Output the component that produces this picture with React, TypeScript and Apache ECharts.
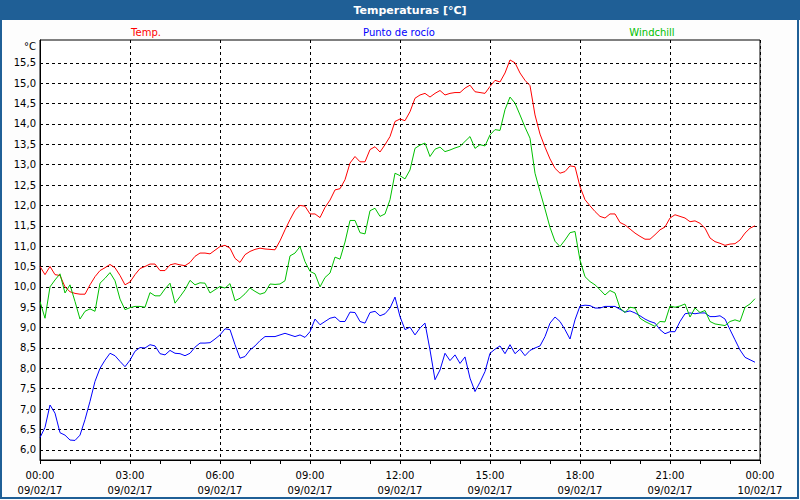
import React, { useEffect, useRef } from "react";
import * as echarts from "echarts";

// minutes after 00:00 on 09/02/17, one reading every 10 minutes
const times: number[] = Array.from({ length: 144 }, (_, k) => k * 10);

const temp: number[] = [
  10.5, 10.3, 10.5, 10.3, 10.28, 10.0, 9.88, 9.84, 9.82, 9.82,
  10.05, 10.25, 10.4, 10.47, 10.55, 10.47, 10.28, 10.05, 10.12, 10.3,
  10.45, 10.5, 10.56, 10.56, 10.4, 10.4, 10.54, 10.57, 10.54, 10.52,
  10.6, 10.75, 10.83, 10.83, 10.81, 10.9, 10.99, 11.02, 10.95, 10.7,
  10.6, 10.79, 10.87, 10.92, 10.95, 10.93, 10.92, 10.91, 11.13, 11.4,
  11.65, 11.88, 12.0, 11.98, 11.79, 11.79, 11.7, 11.95, 12.13, 12.38,
  12.41, 12.63, 13.04, 13.2, 13.07, 13.07, 13.37, 13.44, 13.31, 13.49,
  13.69, 14.06, 14.12, 14.08, 14.3, 14.63, 14.71, 14.75, 14.66, 14.75,
  14.82, 14.71, 14.75, 14.77, 14.77, 14.88, 14.95, 14.79, 14.77, 14.75,
  14.92, 15.07, 15.03, 15.25, 15.57, 15.5, 15.25, 15.07, 14.94, 14.22,
  13.75, 13.43, 13.14, 12.91, 12.79, 12.83, 12.97, 12.95, 12.46, 12.14,
  11.99, 11.85, 11.73, 11.69, 11.79, 11.79, 11.58, 11.52, 11.42, 11.32,
  11.24, 11.17, 11.17, 11.28, 11.4, 11.47, 11.69, 11.77, 11.73, 11.69,
  11.6, 11.62, 11.56, 11.44, 11.2, 11.11, 11.07, 11.02, 11.05, 11.06,
  11.15, 11.32, 11.44, 11.5,
];

const dewPoint: number[] = [
  6.3, 6.55, 7.1, 6.9, 6.42, 6.36, 6.24, 6.23, 6.36, 6.74,
  7.19, 7.68, 8.0, 8.2, 8.37, 8.31, 8.17, 8.04, 8.2, 8.42,
  8.51, 8.5, 8.58, 8.55, 8.36, 8.33, 8.44, 8.37, 8.36, 8.31,
  8.37, 8.52, 8.62, 8.62, 8.63, 8.72, 8.82, 8.97, 8.95, 8.58,
  8.25, 8.29, 8.45, 8.55, 8.68, 8.78, 8.78, 8.78, 8.82, 8.86,
  8.82, 8.78, 8.82, 8.76, 8.9, 9.21, 9.07, 9.15, 9.23, 9.26,
  9.15, 9.15, 9.38, 9.37, 9.15, 9.11, 9.37, 9.4, 9.29, 9.34,
  9.48, 9.75, 9.27, 8.95, 9.01, 8.82, 8.99, 9.11, 8.45, 7.72,
  7.96, 8.37, 8.19, 8.33, 8.12, 8.28, 7.76, 7.43, 7.66, 7.92,
  8.37, 8.47, 8.55, 8.36, 8.58, 8.36, 8.47, 8.31, 8.44, 8.5,
  8.55, 8.78, 9.11, 9.26, 9.15, 8.95, 8.72, 9.19, 9.53, 9.55,
  9.54, 9.48, 9.48, 9.52, 9.52, 9.52, 9.45, 9.38, 9.41, 9.36,
  9.29, 9.21, 9.15, 9.11, 8.95, 8.85, 8.9, 8.9, 9.15, 9.34,
  9.36, 9.34, 9.36, 9.36, 9.27, 9.27, 9.29, 9.21, 8.95, 8.7,
  8.45, 8.27, 8.21, 8.15,
];

const windchill: number[] = [
  9.64, 9.23, 10.0, 10.17, 10.32, 9.85, 10.05, 9.64, 9.21, 9.4,
  9.46, 9.4, 10.09, 10.21, 10.35, 10.15, 9.7, 9.44, 9.49, 9.52,
  9.52, 9.5, 9.86, 9.78, 9.78, 9.95, 10.09, 9.6, 9.76, 9.93,
  10.16, 10.05, 10.1, 10.09, 9.85, 9.93, 10.01, 9.97, 10.08, 9.66,
  9.72, 9.83, 9.97, 9.89, 9.82, 9.86, 10.07, 10.06, 10.07, 10.15,
  10.76, 10.83, 10.99, 10.62, 10.38, 10.32, 10.0, 10.23, 10.34, 10.73,
  10.68, 11.1, 11.63, 11.63, 11.33, 11.3, 11.87, 11.93, 11.73, 11.79,
  12.14, 12.79, 12.73, 12.65, 12.87, 13.4, 13.48, 13.53, 13.2, 13.38,
  13.43, 13.32, 13.36, 13.41, 13.45, 13.57, 13.69, 13.4, 13.49, 13.46,
  13.73, 13.86, 13.84, 14.35, 14.66, 14.51, 14.22, 13.92, 13.65, 12.79,
  12.34, 11.91, 11.46, 11.12, 10.99, 11.15, 11.33, 11.36, 10.66, 10.25,
  10.13, 10.05, 9.93, 9.8, 9.91, 9.85, 9.48, 9.37, 9.5, 9.48,
  9.23, 9.15, 9.09, 9.03, 9.15, 9.14, 9.53, 9.5, 9.53, 9.58,
  9.26, 9.48, 9.37, 9.42, 9.15, 9.09, 9.07, 9.05, 9.15, 9.19,
  9.15, 9.5, 9.58, 9.71,
];

const yTicks: number[] = [6.0, 6.5, 7.0, 7.5, 8.0, 8.5, 9.0, 9.5, 10.0, 10.5, 11.0, 11.5, 12.0, 12.5, 13.0, 13.5, 14.0, 14.5, 15.0, 15.5];
const seriesNames: string[] = ["Temp.", "Punto de rocío", "Windchill"];
const seriesColors: string[] = ["#ff0000", "#0000ff", "#00c000"];
const startDate = "09/02/17";
const endDate = "10/02/17";
const title = "Temperaturas [°C]";
const unit = "°C";

const FONT = "DejaVu Sans";

function pairs(vals: number[]) {
  return vals.map((v, i) => [times[i], v]);
}

export default function App() {
  const ref = useRef<HTMLDivElement>(null);
  useEffect(() => {
    if (!ref.current) return;
    const chart = echarts.init(ref.current, null, { renderer: "svg" });
    const dataSets = [temp, dewPoint, windchill];
    const legendX = [146, 399, 652];
    chart.setOption({
      animation: false,
      backgroundColor: "#fdfdfd",
      textStyle: { fontFamily: FONT },
      grid: {
        left: 40,
        right: 40,
        top: 40,
        bottom: 40,
        show: true,
        backgroundColor: "#ffffff",
        borderColor: "#000000",
        borderWidth: 1,
      },
      xAxis: {
        type: "value",
        min: 0,
        max: 1440,
        interval: 180,
        axisLine: { show: true, lineStyle: { color: "#000", width: 1 } },
        axisTick: { show: true, length: 4, lineStyle: { color: "#000" } },
        minorTick: { show: true, splitNumber: 3, length: 4, lineStyle: { color: "#000" } },
        splitLine: { show: true, lineStyle: { color: "#000", type: [3, 3], width: 1 } },
        axisLabel: {
          fontFamily: FONT,
          fontSize: 10,
          color: "#000",
          lineHeight: 15,
          margin: 8,
          formatter: (v: number) => {
            const h = Math.floor(v / 60) % 24;
            const hh = (h < 10 ? "0" : "") + h + ":00";
            return hh + "\n" + (v >= 1440 ? endDate : startDate);
          },
        },
      },
      yAxis: {
        type: "value",
        min: 5.75,
        max: 16.06,
        axisLine: { show: true, lineStyle: { color: "#000", width: 1 } },
        axisTick: { show: false, customValues: yTicks },
        splitLine: { show: true, lineStyle: { color: "#000", type: [3, 3], width: 1 } },
        axisLabel: {
          customValues: yTicks,
          fontFamily: FONT,
          fontSize: 10,
          color: "#000",
          margin: 4,
          formatter: (v: number) => v.toFixed(1).replace(".", ","),
        },
      },
      series: dataSets.map((d, i) => ({
        name: seriesNames[i],
        type: "line",
        data: pairs(d),
        showSymbol: false,
        symbol: "none",
        lineStyle: { color: seriesColors[i], width: 1 },
        itemStyle: { color: seriesColors[i] },
        z: 3 + i,
      })),
      graphic: [
        { type: "rect", shape: { x: 0, y: 0, width: 800, height: 20 }, style: { fill: "#1f5f96" }, z: 10 },
        {
          type: "text",
          x: 410,
          y: 10,
          style: { text: title, fill: "#ffffff", font: `bold 11px "${FONT}"`, align: "center", verticalAlign: "middle" },
          z: 11,
        },
        {
          type: "rect",
          shape: { x: 1, y: 1, width: 797, height: 497 },
          style: { fill: "none", stroke: "#1f5f96", lineWidth: 2 },
          z: 10,
        },
        {
          type: "text",
          x: 36,
          y: 46,
          style: { text: unit, fill: "#000", font: `10px "${FONT}"`, align: "right", verticalAlign: "middle" },
          z: 11,
        },
        ...seriesNames.map((n, i) => ({
          type: "text",
          x: legendX[i],
          y: 32,
          style: { text: n, fill: seriesColors[i], font: `10px "${FONT}"`, align: "center", verticalAlign: "middle" },
          z: 11,
        })),
      ],
    });
    return () => chart.dispose();
  }, []);
  return <div ref={ref} style={{ position: "fixed", left: 0, top: 0, width: 800, height: 500 }} />;
}
